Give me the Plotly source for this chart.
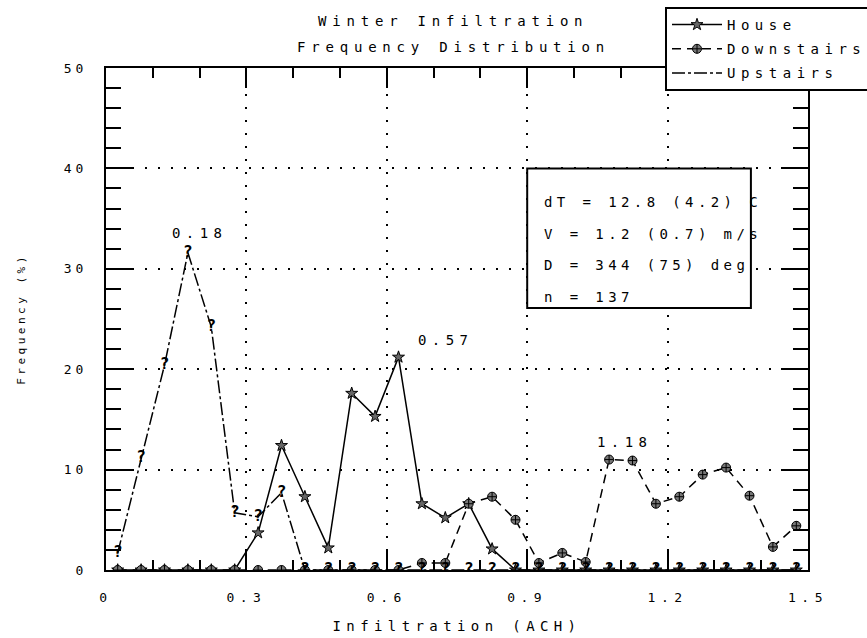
import plotly.graph_objects as go

# ---------------- data ----------------
infiltration = [0.025, 0.075, 0.125, 0.175, 0.225, 0.275, 0.325, 0.375, 0.425, 0.475,
                0.525, 0.575, 0.625, 0.675, 0.725, 0.775, 0.825, 0.875, 0.925, 0.975,
                1.025, 1.075, 1.125, 1.175, 1.225, 1.275, 1.325, 1.375, 1.425, 1.475]
house = [0, 0, 0, 0, 0, 0, 3.7, 12.4, 7.3, 2.2,
         17.6, 15.3, 21.2, 6.6, 5.2, 6.6, 2.1, 0, 0, 0,
         0, 0, 0, 0, 0, 0, 0, 0, 0, 0]
downstairs = [0, 0, 0, 0, 0, 0, 0, 0, 0, 0,
              0, 0, 0, 0.7, 0.7, 6.6, 7.3, 5.0, 0.7, 1.7,
              0.8, 11.0, 10.9, 6.6, 7.3, 9.5, 10.2, 7.4, 2.3, 4.4]
upstairs = [1.7, 11.2, 20.4, 31.6, 24.2, 5.7, 5.3, 7.7, 0, 0,
            0, 0, 0, 0, 0, 0, 0, 0, 0, 0,
            0, 0, 0, 0, 0, 0, 0, 0, 0, 0]

series_names = ["House", "Downstairs", "Upstairs"]
x_tickvals = [0, 0.3, 0.6, 0.9, 1.2, 1.5]
x_ticktext = ["0", "0.3", "0.6", "0.9", "1.2", "1.5"]
y_tickvals = [0, 10, 20, 30, 40, 50]
y_ticktext = ["0", "10", "20", "30", "40", "50"]
title_lines = ["Winter Infiltration", "Frequency Distribution"]
x_title = "Infiltration (ACH)"
y_title = "Frequency (%)"
peak_labels = ["0.18", "0.57", "1.18"]
stats_lines = ["dT = 12.8 (4.2) C", "V = 1.2 (0.7) m/s", "D = 344 (75) deg", "n = 137"]

FONT = "DejaVu Sans Mono"


def sp(s, ls=5.5):
    return f'<span style="letter-spacing:{ls}px">{s}</span>'


fig = go.Figure()

line_w = 1.5
fig.add_trace(go.Scatter(
    x=infiltration, y=house, name=sp(series_names[0], 5.5), mode="lines+markers",
    legendgroup="h",
    line=dict(color="black", width=line_w),
    marker=dict(symbol="star", size=9, color="#666", line=dict(color="black", width=1)),
))
fig.add_trace(go.Scatter(
    x=infiltration, y=downstairs, name=sp(series_names[1], 5.5), mode="lines+markers",
    legendgroup="d",
    line=dict(color="black", width=line_w, dash="9px,6px"),
    marker=dict(symbol="circle-cross", size=9, color="#777", line=dict(color="black", width=1)),
))
fig.add_trace(go.Scatter(
    x=infiltration, y=upstairs, name=sp(series_names[2], 5.5), mode="lines+text",
    legendgroup="u",
    text=["?"] * len(infiltration), textposition="middle center",
    textfont=dict(family=FONT, size=16, color="black", weight="bold"),
    line=dict(color="black", width=line_w, dash="13px,3px,3px,3px"),
))

# stats box
fig.add_shape(type="rect", xref="x", yref="y", x0=0.9, x1=1.378, y0=26.1, y1=40,
              line=dict(color="black", width=2), fillcolor="white", layer="above")
stat_y = [36.65, 33.5, 30.4, 27.2]
for s, yy in zip(stats_lines, stat_y):
    fig.add_annotation(x=0.932, y=yy, xref="x", yref="y", text=sp(s, 4.4),
                       showarrow=False, xanchor="left", yanchor="middle",
                       font=dict(family=FONT, size=14, color="black"))

# peak labels
peak_pos = [(0.199, 33.6), (0.725, 22.9), (1.108, 12.75)]
for lab, (px, py) in zip(peak_labels, peak_pos):
    fig.add_annotation(x=px, y=py, xref="x", yref="y", text=sp(lab, 5.4),
                       showarrow=False, xanchor="center", yanchor="middle",
                       font=dict(family=FONT, size=14, color="black"))

# title
for t, yy in zip(title_lines, [1.0936, 1.0418]):
    fig.add_annotation(x=0.495, y=yy, xref="paper", yref="paper", text=sp(t, 5.8),
                       showarrow=False, xanchor="center", yanchor="middle",
                       font=dict(family=FONT, size=14, color="black"))

axis_common = dict(
    showline=True, linecolor="black", linewidth=2, mirror="ticks",
    ticks="inside", tickcolor="black", tickwidth=1.5,
    showgrid=True, gridcolor="black", gridwidth=1.5, griddash="2px,11px",
    zeroline=False, tickfont=dict(family=FONT, size=13, color="black"),
)

fig.update_xaxes(
    range=[0, 1.5], tickmode="array", tickvals=x_tickvals,
    ticktext=[sp(t, 5.5) for t in x_ticktext], ticklen=20, ticklabelstandoff=14,
    minor=dict(dtick=0.1, tick0=0, ticks="inside", ticklen=10, tickcolor="black", tickwidth=1.5, showgrid=False),
    title=dict(text=sp(x_title, 5.4), font=dict(family=FONT, size=14, color="black"), standoff=18),
    **axis_common,
)
fig.update_yaxes(
    range=[0, 50], tickmode="array", tickvals=y_tickvals,
    ticktext=[sp(t, 4) for t in y_ticktext], ticklen=27, ticklabelstandoff=14,
    minor=dict(dtick=2, tick0=0, ticks="inside", ticklen=15, tickcolor="black", tickwidth=1.5, showgrid=False),
    title=dict(text=sp(y_title, 3.5), font=dict(family=FONT, size=11, color="black"), standoff=36),
    **axis_common,
)

fig.update_layout(
    width=867, height=638,
    margin=dict(l=106, r=59, t=68, b=68, autoexpand=False),
    plot_bgcolor="white", paper_bgcolor="white",
    font=dict(family=FONT, size=13, color="black"),
    showlegend=True,
    legend=dict(x=0.7963, y=1.1215, xanchor="left", yanchor="top",
                bgcolor="white", bordercolor="black", borderwidth=2,
                font=dict(family=FONT, size=14, color="black"),
                itemwidth=50, tracegroupgap=3),
)

fig.write_html("out.html")
